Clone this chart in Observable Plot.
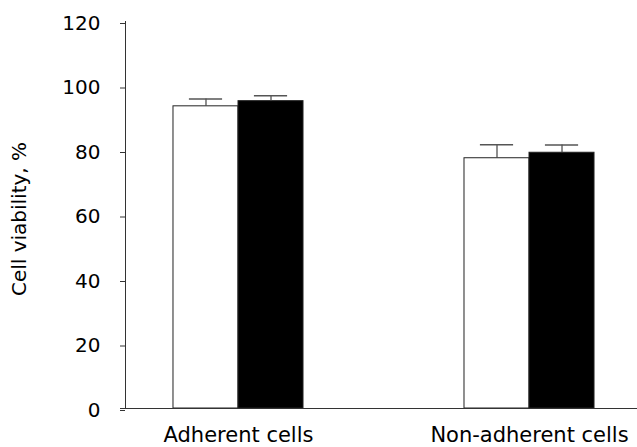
<!DOCTYPE html>
<html>
<head>
<meta charset="utf-8">
<script src="https://cdn.jsdelivr.net/npm/d3@7"></script>
<script src="https://cdn.jsdelivr.net/npm/@observablehq/plot@0.6"></script>
<style>
  html, body { margin: 0; padding: 0; background: #fff; }
  svg { display: block; }
</style>
</head>
<body>
<div id="chart"></div>
<script>
// ---- data ----
const groups = ["Adherent cells", "Non-adherent cells"];
const series = ["Control", "Treated"];
const seriesFill = ["white", "black"];
const controlValues = [93.7, 77.6];
const controlErrors = [2.3, 4.2];
const treatedValues = [95.3, 79.3];
const treatedErrors = [1.7, 2.4];
const yTicks = [0, 20, 40, 60, 80, 100, 120];
const yLabel = "Cell viability, %";

// ---- build table ----
const barWidth = 0.2234;   // in group-index units
const capHalf = 0.057;
const rows = [];
groups.forEach((g, gi) => {
  [[controlValues, controlErrors], [treatedValues, treatedErrors]].forEach(([vals, errs], si) => {
    const x1 = gi + (si - 1) * barWidth;
    const x2 = x1 + barWidth;
    rows.push({
      group: g, series: series[si], fill: seriesFill[si],
      x1, x2, xc: (x1 + x2) / 2,
      value: vals[gi], top: vals[gi] + errs[gi]
    });
  });
});

const xDomain = [-0.3883, 1.3711];

const chart = Plot.plot({
  width: 637,
  height: 447,
  marginLeft: 125,
  marginRight: 0,
  marginTop: 21,
  marginBottom: 39,
  style: { fontFamily: "'DejaVu Sans', sans-serif", fontSize: "20px", color: "#000", background: "#fff" },
  x: { type: "linear", domain: xDomain },
  y: { domain: [0, 120] },
  marks: [
    Plot.rectY(rows, { x1: "x1", x2: "x2", y: "value", fill: "fill", stroke: "#222", strokeWidth: 1 }),
    Plot.ruleX(rows, { x: "xc", y1: "value", y2: "top", stroke: "#444", strokeWidth: 1.2 }),
    Plot.ruleY(rows, { y: "top", x1: d => d.xc - capHalf, x2: d => d.xc + capHalf, stroke: "#555", strokeWidth: 1.5 }),
    Plot.ruleX([xDomain[0]], { y1: 0, y2: 120, stroke: "#333", strokeWidth: 1 }),
    Plot.ruleY([0], { stroke: "#333", strokeWidth: 1.2, insetLeft: -5 }),
    Plot.axisY({ ticks: yTicks, tickSize: 5, tickPadding: 20, label: null, stroke: "#333", fontSize: 20, dy: 2 }),
    Plot.axisX({ ticks: groups.map((_, i) => i), tickFormat: i => groups[i], tickSize: 0, tickPadding: 19, label: null, fontSize: 21 }),
    Plot.text([yLabel], { frameAnchor: "left", rotate: -90, dx: -106, dy: 4, fontSize: 20, textAnchor: "middle", lineAnchor: "middle", fill: "#000" })
  ]
});
document.getElementById("chart").appendChild(chart);
</script>
</body>
</html>
